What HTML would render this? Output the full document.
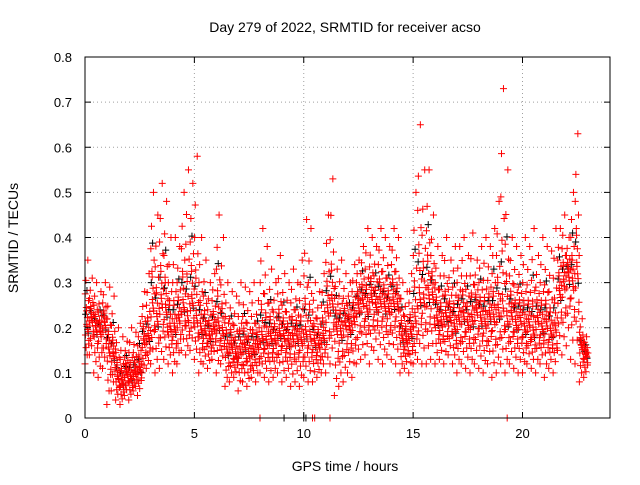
<!DOCTYPE html>
<html><head><meta charset="utf-8"><style>
body{margin:0;background:#fff}
svg{font-family:"Liberation Sans",sans-serif}
</style></head><body>
<svg id="chart" width="640" height="480">
<text x="345" y="32" font-size="14" text-anchor="middle">Day 279 of 2022, SRMTID for receiver acso</text>
<text x="345" y="471" font-size="14" text-anchor="middle">GPS time / hours</text>
<text transform="translate(18,238) rotate(-90)" font-size="14" text-anchor="middle">SRMTID / TECUs</text>
<g id="grid"></g><g id="marks"></g><g id="axes"></g>
</svg>
<script>
const xTicks=[0,5,10,15,20];
const yTicks=[0,0.1,0.2,0.3,0.4,0.5,0.6,0.7,0.8];
const binHours=0.2;
const lowVals=[.12,.14,.10,.09,.11,.03,.06,.04,.03,.05,.04,.06,.05,.10,.11,.12,.10,.11,.13,.12,.10,.12,.15,.14,.15,.13,.10,.12,.11,.13,.10,.12,.07,.08,.09,.06,.08,.07,.09,.08,.10,.09,.08,.09,.10,.08,.09,.07,.08,.07,.09,.08,.08,.09,.10,.10,.12,.05,.07,.08,.10,.09,.12,.13,.14,.12,.15,.13,.12,.14,.13,.12,.10,.11,.10,.12,.13,.12,.12,.13,.12,.13,.12,.14,.12,.10,.12,.11,.10,.12,.11,.10,.12,.09,.10,.12,.10,.12,.11,.10,.10,.12,.11,.10,.12,.09,.11,.10,.15,.14,.16,.13,.12,.08,.09];
const midVals=[.20,.22,.20,.19,.21,.15,.14,.09,.08,.10,.09,.10,.11,.17,.18,.25,.22,.26,.24,.20,.20,.22,.25,.22,.26,.22,.20,.19,.18,.20,.21,.19,.15,.16,.14,.15,.16,.14,.15,.16,.18,.17,.18,.17,.19,.18,.17,.18,.18,.17,.19,.18,.17,.16,.18,.24,.26,.20,.19,.21,.20,.22,.25,.26,.24,.27,.25,.26,.25,.24,.26,.25,.18,.17,.19,.22,.27,.26,.28,.27,.22,.21,.23,.22,.20,.22,.23,.21,.22,.24,.22,.21,.23,.22,.24,.25,.22,.23,.21,.22,.20,.21,.19,.22,.20,.21,.19,.20,.28,.30,.32,.30,.33,.16,.14];
const highVals=[.35,.31,.30,.28,.30,.29,.27,.20,.18,.17,.20,.19,.21,.28,.32,.50,.45,.52,.48,.40,.40,.38,.50,.55,.52,.58,.40,.35,.30,.32,.45,.40,.30,.28,.27,.30,.29,.28,.30,.26,.42,.38,.33,.30,.36,.32,.30,.33,.30,.35,.44,.42,.30,.28,.32,.45,.53,.33,.35,.32,.30,.34,.35,.38,.42,.40,.38,.42,.40,.38,.42,.40,.30,.28,.32,.50,.65,.55,.55,.45,.38,.36,.40,.35,.38,.38,.40,.36,.41,.35,.38,.40,.38,.42,.48,.73,.55,.40,.38,.36,.40,.38,.42,.36,.40,.38,.37,.42,.42,.45,.40,.50,.63,.22,.18];
const zeroRedTimes=[8.0,10.4,10.5,11.2,19.3];
const zeroBlackTimes=[9.1,10.0,10.1];
const X0=85,X1=610,Y0=418,Y1=57,XMAX=24,YMAX=0.8;
const xs=t=>X0+(X1-X0)*t/XMAX, ys=v=>Y0-(Y0-Y1)*v/YMAX;
const NS='http://www.w3.org/2000/svg';
function mk(tag,parent,attrs){const e=document.createElementNS(NS,tag);for(const k in attrs)e.setAttribute(k,attrs[k]);parent.appendChild(e);return e;}
const grid=document.getElementById('grid'),marks=document.getElementById('marks'),axes=document.getElementById('axes');
xTicks.forEach(t=>{const x=xs(t);
 if(t>0){const g=mk('line',grid,{x1:x,x2:x,y1:Y0,y2:Y1,stroke:'#a0a0a0','stroke-dasharray':'1,3'});
 
 }
 const l=mk('text',axes,{x:x,y:Y0+20,'font-size':13,'text-anchor':'middle'});l.textContent=t;
 
 
 mk('line',axes,{x1:x,x2:x,y1:Y0,y2:Y0-6,stroke:'#000'});mk('line',axes,{x1:x,x2:x,y1:Y1,y2:Y1+6,stroke:'#000'});});
yTicks.forEach(v=>{const y=ys(v);
 if(v>0&&v<0.8){const g=mk('line',grid,{x1:X0,x2:X1,y1:y,y2:y,stroke:'#a0a0a0','stroke-dasharray':'1,3'});
 
 }
 const l=mk('text',axes,{x:X0-13,y:y+5,'font-size':13,'text-anchor':'end'});l.textContent=(v===0?'0':v.toFixed(1));
 
 
 mk('line',axes,{x1:X0,x2:X0+6,y1:y,y2:y,stroke:'#000'});mk('line',axes,{x1:X1,x2:X1-6,y1:y,y2:y,stroke:'#000'});});
const frame=mk('rect',axes,{x:X0,y:Y1,width:X1-X0,height:Y0-Y1,fill:'none',stroke:'#000'});


function plus(t,v,c){const x=xs(t),y=ys(v);
 const p=mk('path',marks,{d:`M${x-3.5},${y}h7M${x},${y-3.5}v7`,stroke:c,'stroke-width':1,fill:'none'});
 
 }
const fracs=[-1,0.15,-0.55,0.4,-0.2,1,0.05,-0.35,0.7,-0.1,0.25,-0.75,0.1,0.5,-0.05,0.3,-0.45,0.02];
const offs=[0.00,0.11,0.05,0.16,0.02,0.13,0.08,0.18,0.04,0.14,0.07,0.10,0.19,0.01,0.12,0.06,0.17,0.09];
function val(i,f){const m=midVals[i];return f>=0?m+(highVals[i]-m)*f:m+(m-lowVals[i])*f;}
midVals.forEach((m,i)=>{const t=i*binHours;
 plus(t+0.03,val(i,0.2),'#000');
 if(i%2===0)plus(t+0.15,val(i,-0.15),'#000');
 if(i%3===0)plus(t+0.09,val(i,0.55),'#000');});
midVals.forEach((m,i)=>{const t=i*binHours;
 fracs.forEach((f,k)=>plus(t+offs[k],val(i,f),'#f00'));});
zeroBlackTimes.forEach(t=>plus(t,0,'#000'));
zeroRedTimes.forEach(t=>plus(t,0,'#f00'));
</script>
</body></html>
